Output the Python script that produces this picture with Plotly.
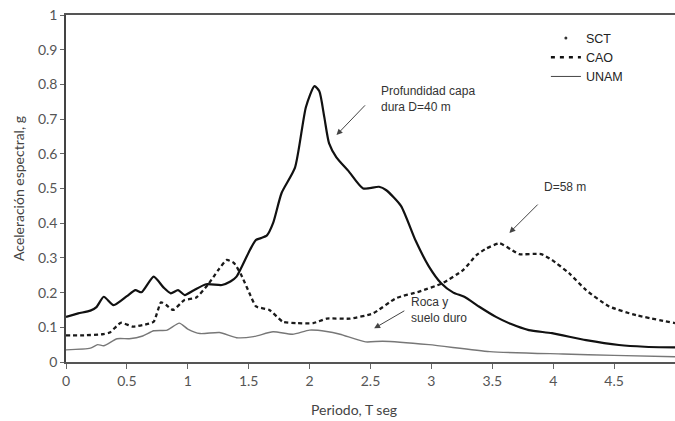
import plotly.graph_objects as go

# Black solid curve (SCT)
sct_x = [0, 0.1, 0.2, 0.25, 0.31, 0.39, 0.5, 0.57, 0.62, 0.72, 0.8, 0.86, 0.92, 0.975, 1.05, 1.15, 1.28, 1.35, 1.4, 1.51, 1.56, 1.6, 1.65, 1.7, 1.77, 1.88, 1.97, 2.04, 2.08, 2.12, 2.16, 2.22, 2.32, 2.44, 2.57, 2.63, 2.75, 2.87, 2.98, 3.08, 3.18, 3.27, 3.39, 3.53, 3.65, 3.8, 3.99, 4.27, 4.54, 4.75, 5.0]
sct_y = [0.13, 0.14, 0.148, 0.158, 0.188, 0.164, 0.19, 0.207, 0.201, 0.246, 0.215, 0.198, 0.207, 0.193, 0.207, 0.224, 0.222, 0.232, 0.246, 0.323, 0.352, 0.357, 0.365, 0.40, 0.487, 0.56, 0.735, 0.795, 0.78, 0.707, 0.63, 0.59, 0.55, 0.50, 0.505, 0.495, 0.45, 0.35, 0.275, 0.227, 0.20, 0.188, 0.16, 0.13, 0.11, 0.092, 0.083, 0.063, 0.049, 0.044, 0.042]

# Dashed curve (CAO)
cao_x = [0, 0.15, 0.3, 0.36, 0.45, 0.55, 0.65, 0.72, 0.78, 0.82, 0.88, 0.97, 1.07, 1.17, 1.25, 1.32, 1.38, 1.44, 1.51, 1.56, 1.67, 1.78, 1.9, 2.03, 2.14, 2.33, 2.52, 2.71, 2.9, 3.09, 3.26, 3.37, 3.45, 3.56, 3.65, 3.72, 3.9, 3.99, 4.13, 4.27, 4.46, 4.68, 5.0]
cao_y = [0.077, 0.077, 0.08, 0.085, 0.113, 0.102, 0.108, 0.116, 0.172, 0.165, 0.15, 0.178, 0.186, 0.225, 0.265, 0.294, 0.285, 0.25, 0.195, 0.16, 0.15, 0.116, 0.112, 0.112, 0.125, 0.125, 0.14, 0.184, 0.203, 0.227, 0.265, 0.308, 0.327, 0.342, 0.325, 0.311, 0.311, 0.294, 0.256, 0.207, 0.16, 0.135, 0.112]

# Grey curve (UNAM)
unam_x = [0, 0.2, 0.26, 0.31, 0.42, 0.52, 0.63, 0.72, 0.83, 0.93, 1.0, 1.1, 1.26, 1.4, 1.54, 1.7, 1.86, 2.0, 2.14, 2.25, 2.46, 2.6, 2.98, 3.48, 4.08, 4.5, 5.0]
unam_y = [0.035, 0.04, 0.05, 0.047, 0.067, 0.067, 0.075, 0.09, 0.092, 0.112, 0.095, 0.082, 0.085, 0.07, 0.073, 0.087, 0.08, 0.092, 0.088, 0.08, 0.058, 0.06, 0.05, 0.03, 0.023, 0.019, 0.015]

series_names = ["SCT", "CAO", "UNAM"]
x_ticks = [0, 0.5, 1, 1.5, 2, 2.5, 3, 3.5, 4, 4.5]
x_tick_text = ["0", "0.5", "1", "1.5", "2", "2.5", "3", "3.5", "4", "4.5"]
y_ticks = [0, 0.1, 0.2, 0.3, 0.4, 0.5, 0.6, 0.7, 0.8, 0.9, 1]
y_tick_text = ["0", "0.1", "0.2", "0.3", "0.4", "0.5", "0.6", "0.7", "0.8", "0.9", "1"]

fig = go.Figure()
fig.add_trace(go.Scatter(x=sct_x, y=sct_y, mode="lines", showlegend=False,
                         line=dict(color="#111111", width=2.2, shape="spline", smoothing=0.6)))
fig.add_trace(go.Scatter(x=cao_x, y=cao_y, mode="lines", showlegend=False,
                         line=dict(color="#1a1a1a", width=2.3, dash="4px,3px", shape="spline", smoothing=0.5)))
fig.add_trace(go.Scatter(x=unam_x, y=unam_y, mode="lines", showlegend=False,
                         line=dict(color="#777777", width=1.4, shape="spline", smoothing=0.6)))

# legend entries
fig.add_trace(go.Scatter(x=[None], y=[None], mode="markers", name=series_names[0],
                         marker=dict(color="#333333", size=3)))
fig.add_trace(go.Scatter(x=[None], y=[None], mode="lines", name=series_names[1],
                         line=dict(color="#111111", width=2.5, dash="4px,5px")))
fig.add_trace(go.Scatter(x=[None], y=[None], mode="lines", name=series_names[2],
                         line=dict(color="#444444", width=1)))

ann_font = dict(family="Liberation Sans, Arial, sans-serif", size=12, color="#333333")
arrow_col = "#444444"
annotations = [
    dict(x=2.566, y=0.758, text="Profundidad capa<br>dura D=40 m", showarrow=False,
         xanchor="left", yanchor="middle", align="left", font=ann_font),
    dict(x=2.221, y=0.654, ax=2.467, ay=0.744, axref="x", ayref="y", text="",
         showarrow=True, arrowhead=2, arrowsize=1.2, arrowwidth=1, arrowcolor=arrow_col),
    dict(x=3.91, y=0.504, text="D=58 m", showarrow=False,
         xanchor="left", yanchor="middle", font=ann_font),
    dict(x=3.64, y=0.372, ax=3.885, ay=0.458, axref="x", ayref="y", text="",
         showarrow=True, arrowhead=2, arrowsize=1.2, arrowwidth=1, arrowcolor=arrow_col),
    dict(x=2.82, y=0.15, text="Roca y<br>suelo duro", showarrow=False,
         xanchor="left", yanchor="middle", align="left", font=ann_font),
    dict(x=2.53, y=0.097, ax=2.79, ay=0.15, axref="x", ayref="y", text="",
         showarrow=True, arrowhead=2, arrowsize=1.2, arrowwidth=1, arrowcolor=arrow_col),
    dict(x=0.473, y=-0.138, xref="paper", yref="paper", text="Periodo, T seg", showarrow=False,
         xanchor="center", yanchor="middle",
         font=dict(family="Lato, DejaVu Sans, sans-serif", size=14, color="#444444")),
]

tick_font = dict(family="Lato, DejaVu Sans, sans-serif", size=14, color="#555555")

fig.update_layout(
    width=675, height=421,
    margin=dict(l=66, r=0, t=15, b=59),
    paper_bgcolor="white", plot_bgcolor="white",
    annotations=annotations,
    legend=dict(x=0.788, y=0.976, xanchor="left", yanchor="top",
                font=dict(family="Liberation Sans, Arial, sans-serif", size=12.5, color="#222222"),
                bgcolor="rgba(0,0,0,0)", itemwidth=30, tracegroupgap=0),
    xaxis=dict(range=[0, 5.0], tickvals=x_ticks, ticktext=x_tick_text, showgrid=False,
               zeroline=False, showline=True, linecolor="#555555", linewidth=1.5, mirror=True,
               ticks="outside", ticklen=5, tickcolor="#666666", tickfont=tick_font,
               automargin=False),
    yaxis=dict(range=[0, 1.0], tickvals=y_ticks, ticktext=y_tick_text, showgrid=False,
               zeroline=False, showline=True, linecolor="#444444", linewidth=1.5,
               ticks="outside", ticklen=4, tickcolor="#666666", tickfont=tick_font,
               automargin=False,
               title=dict(text="Aceleración espectral, g", standoff=10,
                          font=dict(family="Lato, DejaVu Sans, sans-serif", size=14, color="#444444"))),
)

fig.write_html("out.html", config={"displayModeBar": False},
               post_script="document.body.style.margin='0px';")
